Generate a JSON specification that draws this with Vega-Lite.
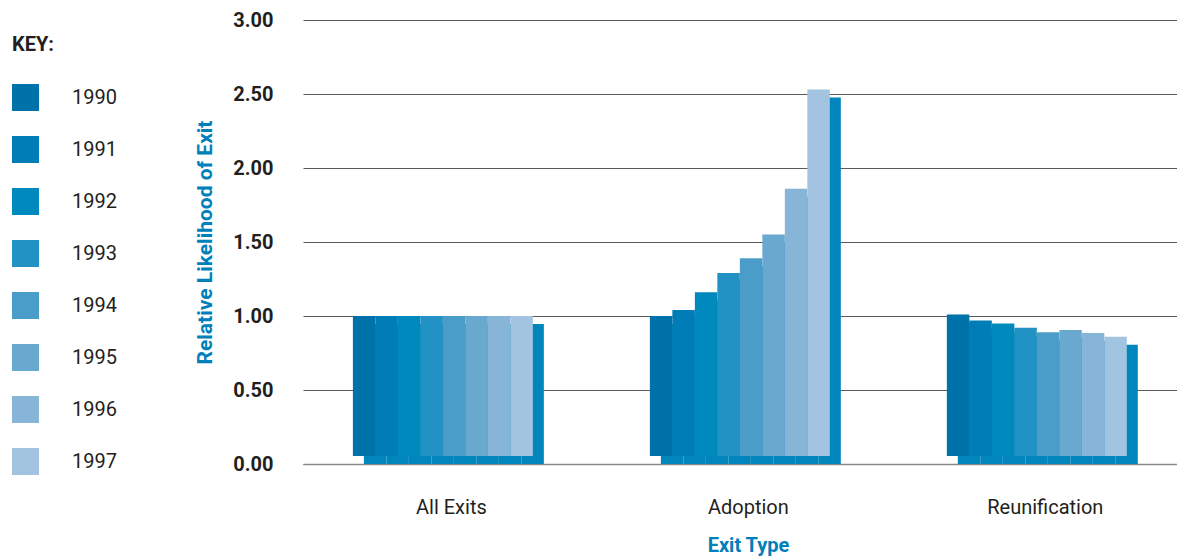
{
  "$schema": "https://vega.github.io/schema/vega-lite/v6.json",
  "width": 874,
  "height": 444,
  "autosize": "none",
  "padding": {"left": 303, "top": 20, "right": 0, "bottom": 92},
  "background": "white",
  "config": {
    "view": {"stroke": null},
    "font": "Roboto"
  },
  "data": {
    "values": [
      {"cat": "All Exits", "year": "1990", "value": 1.0},
      {"cat": "All Exits", "year": "1991", "value": 1.0},
      {"cat": "All Exits", "year": "1992", "value": 1.0},
      {"cat": "All Exits", "year": "1993", "value": 1.0},
      {"cat": "All Exits", "year": "1994", "value": 1.0},
      {"cat": "All Exits", "year": "1995", "value": 1.0},
      {"cat": "All Exits", "year": "1996", "value": 1.0},
      {"cat": "All Exits", "year": "1997", "value": 1.0},
      {"cat": "Adoption", "year": "1990", "value": 1.0},
      {"cat": "Adoption", "year": "1991", "value": 1.04},
      {"cat": "Adoption", "year": "1992", "value": 1.16},
      {"cat": "Adoption", "year": "1993", "value": 1.29},
      {"cat": "Adoption", "year": "1994", "value": 1.39},
      {"cat": "Adoption", "year": "1995", "value": 1.55},
      {"cat": "Adoption", "year": "1996", "value": 1.86},
      {"cat": "Adoption", "year": "1997", "value": 2.53},
      {"cat": "Reunification", "year": "1990", "value": 1.01},
      {"cat": "Reunification", "year": "1991", "value": 0.97},
      {"cat": "Reunification", "year": "1992", "value": 0.95},
      {"cat": "Reunification", "year": "1993", "value": 0.92},
      {"cat": "Reunification", "year": "1994", "value": 0.89},
      {"cat": "Reunification", "year": "1995", "value": 0.905},
      {"cat": "Reunification", "year": "1996", "value": 0.885},
      {"cat": "Reunification", "year": "1997", "value": 0.86}
    ]
  },
  "encoding": {
    "x": {
      "field": "cat",
      "type": "nominal",
      "sort": ["All Exits", "Adoption", "Reunification"],
      "scale": {"paddingInner": 0.357, "paddingOuter": 0.15, "align": 0.56},
      "axis": {
        "title": "Exit Type",
        "titleColor": "#0080bb",
        "titleFont": "Roboto",
        "titleFontSize": 20,
        "titleFontWeight": "bold",
        "titleX": 445,
        "titleY": 71,
        "titleBaseline": "top",
        "labelAngle": 0,
        "labelFont": "Roboto",
        "labelFontSize": 20,
        "labelColor": "#231f20",
        "labelPadding": 33,
        "labelOffset": 3,
        "ticks": false,
        "domain": true,
        "domainColor": "#8a8a8a",
        "domainWidth": 1.5,
        "grid": false
      }
    }
  },
  "layer": [
    {
      "mark": {"type": "bar", "color": "#0086bc", "yOffset": 8, "y2Offset": 8},
      "encoding": {
        "xOffset": {
          "field": "year",
          "type": "nominal",
          "scale": {"paddingInner": 0, "paddingOuter": 0.2444, "align": 1}
        },
        "y": {
          "field": "value",
          "type": "quantitative",
          "scale": {"domain": [0, 3]},
          "axis": {
            "values": [0, 0.5, 1, 1.5, 2, 2.5, 3],
            "format": ".2f",
            "title": "Relative Likelihood of Exit",
            "titleColor": "#0080bb",
            "titleFont": "Roboto",
            "titleFontSize": 21,
            "titleFontWeight": "bold",
            "titleX": -88,
            "titleY": 222,
            "titleAlign": "center",
            "titleBaseline": "bottom",
            "titleAngle": -90,
            "labelFont": "Roboto",
            "labelFontSize": 20,
            "labelFontWeight": "bold",
            "labelColor": "#231f20",
            "labelPadding": 30,
            "ticks": false,
            "domain": false,
            "grid": true,
            "gridColor": "#5a5a5a",
            "gridWidth": 1.2
          }
        },
        "y2": {"datum": 0.054}
      }
    },
    {
      "mark": {"type": "bar"},
      "encoding": {
        "xOffset": {
          "field": "year",
          "type": "nominal",
          "scale": {"paddingInner": 0, "paddingOuter": 0.2444, "align": 0}
        },
        "y": {"field": "value", "type": "quantitative"},
        "y2": {"datum": 0.054},
        "color": {
          "field": "year",
          "type": "nominal",
          "scale": {
            "domain": ["1990", "1991", "1992", "1993", "1994", "1995", "1996", "1997"],
            "range": ["#0072aa", "#007db6", "#0089bd", "#2192c3", "#4b9dc9", "#69a9cf", "#86b5d8", "#a2c4e0"]
          },
          "legend": {
            "title": "KEY:",
            "orient": "none",
            "legendX": -291,
            "legendY": 15,
            "titleFont": "Roboto",
            "titleFontSize": 20,
            "titleFontWeight": "bold",
            "titleColor": "#231f20",
            "titlePadding": 29,
            "symbolType": "square",
            "symbolSize": 729,
            "symbolStrokeWidth": 0,
            "symbolOpacity": 1,
            "rowPadding": 25,
            "labelFont": "Roboto",
            "labelFontSize": 20,
            "labelColor": "#231f20",
            "labelOffset": 33,
            "labelLimit": 200
          }
        }
      }
    }
  ],
  "resolve": {"scale": {"xOffset": "independent"}}
}
